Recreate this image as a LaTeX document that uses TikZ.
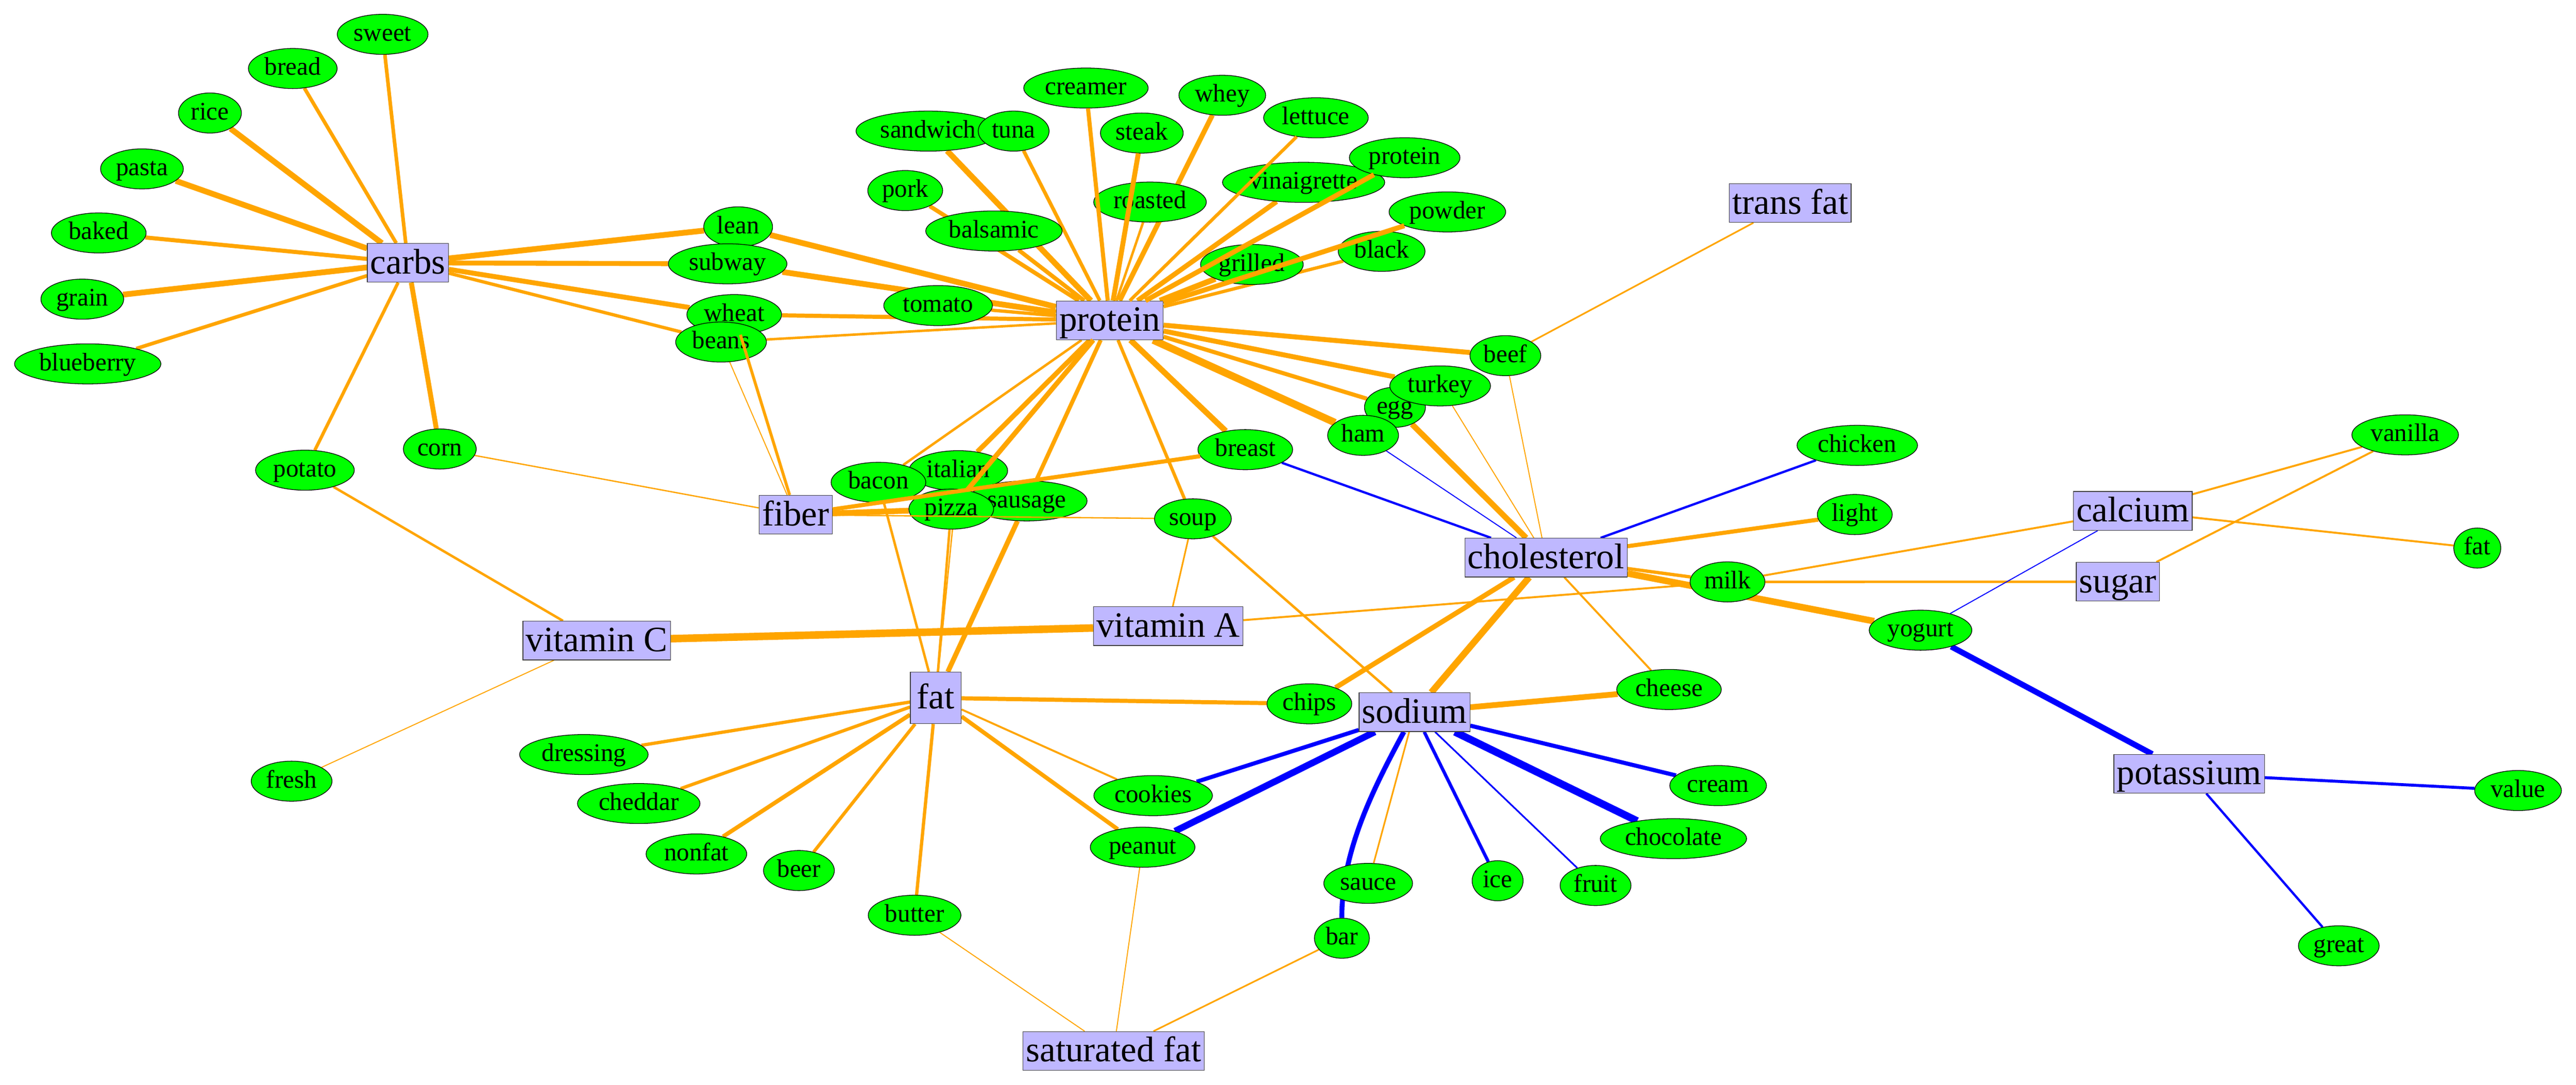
\documentclass[tikz,border=0pt]{standalone}
\usepackage{fontspec}
\setmainfont{Liberation Serif}
\usetikzlibrary{backgrounds,shapes.geometric}
\definecolor{wordgreen}{RGB}{0,255,0}
\definecolor{boxblue}{RGB}{191,184,255}
\definecolor{posorange}{RGB}{255,165,0}
\definecolor{negblue}{RGB}{0,0,255}

\begin{document}
\begin{tikzpicture} [x=1pt, y=-1pt]
\tikzstyle{every node}=[draw, line width=0.4pt];
\tikzstyle{word}=[shape=ellipse, fill=wordgreen, inner xsep=2pt, inner ysep=0pt, minimum height=24.4pt, text height=11.5pt, text depth=3.5pt, font=\fontsize{15.4}{18}\selectfont];
\tikzstyle{nutrient}=[shape=rectangle, fill=boxblue, draw=black!75, inner xsep=1.8pt, inner ysep=0pt, minimum height=23.6pt, text height=16pt, text depth=2.8pt, font=\fontsize{21.7}{24}\selectfont];
\tikzstyle{posedge}=[draw=posorange];
\tikzstyle{negedge}=[draw=negblue];
\useasboundingbox (0,0) rectangle (1568,660.3);
% nutrients
\node [nutrient] (carbs) at (248.3,160) {carbs};
\node [nutrient] (protein) at (675.5,195) {protein};
\node [nutrient] (fiber) at (484.3,313.3) {fiber};
\node [nutrient] (vitC) at (363.2,389.9) {vitamin C};
\node [nutrient] (vitA) at (711.1,381.1) {vitamin A};
\node [nutrient, minimum width=31pt, minimum height=31.4pt] (fat) at (569.6,424.8) {fat};
\node [nutrient] (sodium) at (861,433.5) {sodium};
\node [nutrient] (cholesterol) at (941,339.4) {cholesterol};
\node [nutrient] (transfat) at (1089.7,123.6) {trans fat};
\node [nutrient] (calcium) at (1298.2,311) {calcium};
\node [nutrient] (sugar) at (1289.1,354.1) {sugar};
\node [nutrient] (potassium) at (1332.5,471) {potassium};
\node [nutrient] (satfat) at (677.8,639.7) {saturated fat};
% words round carbs
\node [word] (sweet) at (232.9,20.9) {sweet};
\node [word] (bread) at (178.2,41.7) {bread};
\node [word] (rice) at (127.8,68.8) {rice};
\node [word] (pasta) at (86.4,102.8) {pasta};
\node [word] (baked) at (60.1,141.8) {baked};
\node [word] (grain) at (50.1,182.1) {grain};
\node [word] (blueberry) at (53.4,221.5) {blueberry};
\node [word] (potato) at (185.6,286.2) {potato};
\node [word] (corn) at (267.7,273.3) {corn};
\node [word] (lean) at (449.3,138.1) {lean};
\node [word] (subway) at (442.9,160.6) {subway};
\node [word] (wheat) at (446.9,191.5) {wheat};
\node [word] (beans) at (438.9,208.2) {beans};
% words round protein
\node [word] (sandwich) at (565,79.8) {sandwich};
\node [word] (tuna) at (617,79.8) {tuna};
\node [word] (creamer) at (661,53.6) {creamer};
\node [word] (steak) at (695,81) {steak};
\node [word] (whey) at (744,58) {whey};
\node [word] (lettuce) at (801,71.7) {lettuce};
\node [word] (vinaigrette) at (793.5,111) {vinaigrette};
\node [word] (wprotein) at (855,96) {protein};
\node [word] (pork) at (551,116) {pork};
\node [word] (roasted) at (700,123) {roasted};
\node [word] (balsamic) at (605,140.6) {balsamic};
\node [word] (powder) at (881,129) {powder};
\node [word] (grilled) at (762,161) {grilled};
\node [word] (black) at (841,153) {black};
\node [word] (tomato) at (571,186) {tomato};
\node [word] (beef) at (916.3,216.5) {beef};
\node [word] (egg) at (849.1,247.9) {egg};
\node [word] (turkey) at (876.6,234.9) {turkey};
\node [word] (ham) at (829.7,265) {ham};
\node [word] (breast) at (758,273.7) {breast};
\node [word] (italian) at (583.3,286.5) {italian};
\node [word] (bacon) at (534.7,293.6) {bacon};
\node [word] (sausage) at (625,304.9) {sausage};
\node [word] (pizza) at (579,309.9) {pizza};
\node [word] (soup) at (726.1,315.8) {soup};
% words on the right
\node [word] (chicken) at (1130.5,271.1) {chicken};
\node [word] (light) at (1129,313.2) {light};
\node [word] (milk) at (1051.5,354.2) {milk};
\node [word] (yogurt) at (1169,383.6) {yogurt};
\node [word] (vanilla) at (1464,264.7) {vanilla};
\node [word] (wfat) at (1507.9,333.6) {fat};
\node [word] (value) at (1532.7,481.2) {value};
\node [word] (great) at (1423.6,575.7) {great};
% words round fat and sodium
\node [word] (fresh) at (177.5,475.5) {fresh};
\node [word] (chips) at (797,428.4) {chips};
\node [word] (cheese) at (1015.9,419.7) {cheese};
\node [word] (cream) at (1045.8,478.2) {cream};
\node [word] (chocolate) at (1018.6,510.5) {chocolate};
\node [word] (sauce) at (832.8,537.7) {sauce};
\node [word] (bar) at (816.8,571.1) {bar};
\node [word] (ice) at (911.6,536.1) {ice};
\node [word] (fruit) at (971.2,539) {fruit};
\node [word] (dressing) at (355.4,459.3) {dressing};
\node [word] (cheddar) at (388.8,489.1) {cheddar};
\node [word] (nonfat) at (423.9,519.8) {nonfat};
\node [word] (beer) at (486.3,529.9) {beer};
\node [word] (butter) at (556.7,557.1) {butter};
\node [word] (cookies) at (701.9,484.3) {cookies};
\node [word] (peanut) at (695.5,515.7) {peanut};

\begin{scope}[on background layer]
\draw [posedge, line width=0.6pt] (cholesterol) -- (turkey) % thin
(cholesterol) -- (beef)
(fiber) -- (beans)
(vitC) -- (fresh)
(satfat) -- (butter)
(satfat) -- (peanut);
\draw [posedge, line width=0.8pt] (fiber) -- (corn)
(italian) -- (fat);
\draw [posedge, line width=1pt] (sodium) -- (sauce)
(vitA) -- (soup)
(transfat) -- (beef)
(satfat) -- (bar);
\draw [posedge, line width=1.2pt] (cholesterol) -- (cheese)
(calcium) -- (milk)
(calcium) -- (vanilla)
(calcium) -- (wfat)
(sugar) -- (vanilla)
(vitA) -- (milk)
(fat) -- (cookies);
\draw [posedge, line width=1.5pt] (protein) -- (beans)
(protein) -- (roasted)
(protein) -- (bacon)
(sugar) -- (milk)
(vitC) -- (potato)
(fat) -- (bacon)
(fat) -- (pizza)
(sodium) -- (soup);
\draw [posedge, line width=2pt] (carbs) -- (beans)
(carbs) -- (potato)
(protein) -- (tomato)
(protein) -- (black)
(protein) -- (soup)
(cholesterol) -- (milk)
(fat) -- (dressing)
(fat) -- (cheddar)
(fat) -- (beer)
(fat) -- (butter);
\draw [posedge, line width=2.2pt] (carbs) -- (sweet)
(carbs) -- (bread)
(carbs) -- (blueberry)
(protein) -- (tuna);
\draw [posedge, line width=2.5pt] (carbs) -- (baked)
(protein) -- (wheat)
(protein) -- (pork)
(protein) -- (balsamic)
(protein) -- (egg)
(protein) -- (sausage)
(cholesterol) -- (light)
(fat) -- (chips)
(fat) -- (nonfat)
(fat) -- (peanut);
\draw [posedge, line width=3pt] (carbs) -- (subway)
(carbs) -- (wheat)
(carbs) -- (corn)
(protein) -- (whey)
(protein) -- (vinaigrette)
(protein) -- (beef)
(protein) -- (turkey)
(protein) -- (italian)
(cholesterol) -- (chips)
(fat) -- (sausage);
\draw [posedge, line width=3.5pt] (carbs) -- (rice)
(carbs) -- (pasta)
(carbs) -- (grain)
(carbs) -- (lean)
(protein) -- (lean)
(protein) -- (subway)
(protein) -- (sandwich)
(protein) -- (grilled)
(protein) -- (breast)
(cholesterol) -- (egg)
(sodium) -- (cheese)
(fiber) -- (pizza);
\draw [posedge, line width=4pt] (cholesterol) -- (yogurt)
(cholesterol) -- (sodium);
\draw [posedge, line width=4.5pt] (protein) -- (ham);
\draw [posedge, line width=4.6pt] (vitC) -- (vitA);
\draw [negedge, line width=0.6pt] (cholesterol) -- (ham)
(calcium) -- (yogurt);
\draw [negedge, line width=1pt] (sodium) -- (fruit);
\draw [negedge, line width=1.4pt] (cholesterol) -- (breast)
(cholesterol) -- (chicken)
(potassium) -- (great);
\draw [negedge, line width=1.8pt] (potassium) -- (value);
\draw [negedge, line width=2pt] (sodium) -- (ice);
\draw [negedge, line width=2.5pt] (sodium) -- (cookies)
(sodium) -- (cream);
\draw [negedge, line width=3pt] (sodium) .. controls (835.4,480.9) and (816.6,518.5) .. (bar);
\draw [negedge, line width=3.5pt] (potassium) -- (yogurt);
\draw [negedge, line width=4pt] (sodium) -- (peanut);
\draw [negedge, line width=4.5pt] (sodium) -- (chocolate);
\end{scope}

% edges that cross over other words
\draw [posedge, line width=0.8pt] (fiber) -- (soup);
\draw [posedge, line width=1.8pt] (fiber) -- (wheat);
\draw [posedge, line width=2pt] (protein) -- (lettuce);
\draw [posedge, line width=2.5pt] (protein) -- (creamer)
(fiber) -- (breast);
\draw [posedge, line width=3pt] (protein) -- (steak)
(protein) -- (powder)
(protein) -- (wprotein)
(protein) -- (pizza);
\end{tikzpicture}
\end{document}
